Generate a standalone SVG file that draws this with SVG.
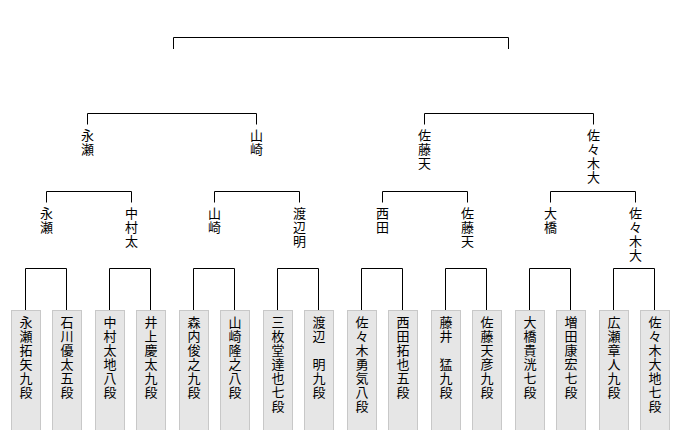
<svg xmlns="http://www.w3.org/2000/svg" width="680" height="430" viewBox="0 0 680 430">
<style>
.ln{fill:none;stroke:#000;stroke-width:1}
.bx{fill:#e6e6e6;stroke:#c8c8c8;stroke-width:1}
.t{font-family:"Noto Sans CJK JP","Noto Sans CJK SC",sans-serif;font-size:13px;fill:#000;writing-mode:vertical-rl;letter-spacing:1px}
</style>
<rect width="680" height="430" fill="#fff"/>
<g id="connectors" class="ln">
<path d="M173.5 49V37.5H508.5V49"/>
<path d="M87.5 124.5V113.5H256.5V124.5"/>
<path d="M424.5 124.5V113.5H593.5V124.5"/>
<path d="M46.5 202.5V191.5H131.5V202.5"/>
<path d="M214.5 202.5V191.5H299.5V202.5"/>
<path d="M382.5 202.5V191.5H467.5V202.5"/>
<path d="M550.5 202.5V191.5H635.5V202.5"/>
<path d="M25.5 310V268.5H66.5V310"/>
<path d="M109.5 310V268.5H150.5V310"/>
<path d="M193.5 310V268.5H234.5V310"/>
<path d="M277.5 310V268.5H318.5V310"/>
<path d="M361.5 310V268.5H402.5V310"/>
<path d="M445.5 310V268.5H486.5V310"/>
<path d="M529.5 310V268.5H570.5V310"/>
<path d="M613.5 310V268.5H654.5V310"/>
</g>
<g id="r2-nagase"><text class="t" x="87.5" y="129">永瀬</text></g>
<g id="r2-yamasaki"><text class="t" x="256.5" y="129">山崎</text></g>
<g id="r2-satoamahiko"><text class="t" x="424.5" y="129">佐藤天</text></g>
<g id="r2-sasakidaichi"><text class="t" x="593.5" y="129">佐々木大</text></g>
<g id="r3-nagase"><text class="t" x="46.5" y="207">永瀬</text></g>
<g id="r3-nakamura"><text class="t" x="131.5" y="207">中村太</text></g>
<g id="r3-yamasaki"><text class="t" x="214.5" y="207">山崎</text></g>
<g id="r3-watanabe"><text class="t" x="299.5" y="207">渡辺明</text></g>
<g id="r3-nishida"><text class="t" x="382.5" y="207">西田</text></g>
<g id="r3-satoamahiko"><text class="t" x="467.5" y="207">佐藤天</text></g>
<g id="r3-ohashi"><text class="t" x="550.5" y="207">大橋</text></g>
<g id="r3-sasakidaichi"><text class="t" x="635.5" y="207">佐々木大</text></g>
<g id="p1"><rect class="bx" x="11.5" y="310.5" width="29" height="130"/><text class="t" x="26" y="316">永瀬拓矢九段</text></g>
<g id="p2"><rect class="bx" x="52.5" y="310.5" width="29" height="130"/><text class="t" x="67" y="316">石川優太五段</text></g>
<g id="p3"><rect class="bx" x="95.5" y="310.5" width="29" height="130"/><text class="t" x="110" y="316">中村太地八段</text></g>
<g id="p4"><rect class="bx" x="136.5" y="310.5" width="29" height="130"/><text class="t" x="151" y="316">井上慶太九段</text></g>
<g id="p5"><rect class="bx" x="179.5" y="310.5" width="29" height="130"/><text class="t" x="194" y="316">森内俊之九段</text></g>
<g id="p6"><rect class="bx" x="220.5" y="310.5" width="29" height="130"/><text class="t" x="235" y="316">山崎隆之八段</text></g>
<g id="p7"><rect class="bx" x="263.5" y="310.5" width="29" height="130"/><text class="t" x="278" y="316">三枚堂達也七段</text></g>
<g id="p8"><rect class="bx" x="304.5" y="310.5" width="29" height="130"/><text class="t" x="319" y="316">渡辺　明九段</text></g>
<g id="p9"><rect class="bx" x="347.5" y="310.5" width="29" height="130"/><text class="t" x="362" y="316">佐々木勇気八段</text></g>
<g id="p10"><rect class="bx" x="388.5" y="310.5" width="29" height="130"/><text class="t" x="403" y="316">西田拓也五段</text></g>
<g id="p11"><rect class="bx" x="431.5" y="310.5" width="29" height="130"/><text class="t" x="446" y="316">藤井　猛九段</text></g>
<g id="p12"><rect class="bx" x="472.5" y="310.5" width="29" height="130"/><text class="t" x="487" y="316">佐藤天彦九段</text></g>
<g id="p13"><rect class="bx" x="515.5" y="310.5" width="29" height="130"/><text class="t" x="530" y="316">大橋貴洸七段</text></g>
<g id="p14"><rect class="bx" x="556.5" y="310.5" width="29" height="130"/><text class="t" x="571" y="316">増田康宏七段</text></g>
<g id="p15"><rect class="bx" x="599.5" y="310.5" width="29" height="130"/><text class="t" x="614" y="316">広瀬章人九段</text></g>
<g id="p16"><rect class="bx" x="640.5" y="310.5" width="29" height="130"/><text class="t" x="655" y="316">佐々木大地七段</text></g>
</svg>
